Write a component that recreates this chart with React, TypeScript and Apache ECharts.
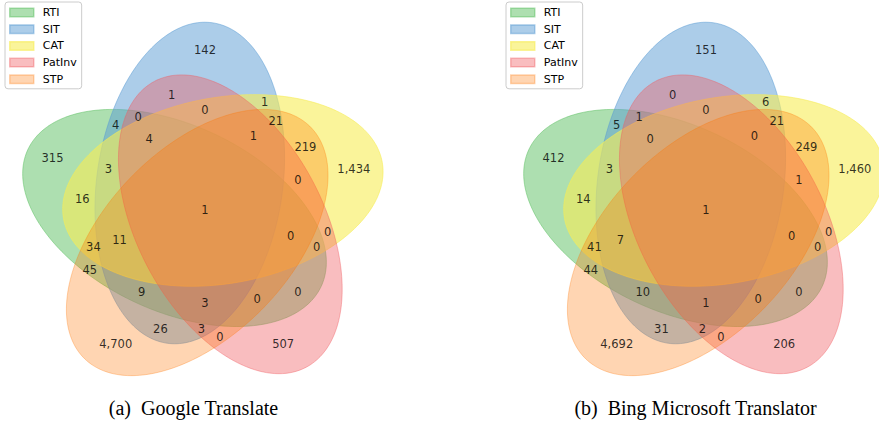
import React, { useEffect, useRef } from "react";
import * as echarts from "echarts";

// Sets (bit order in region keys: RTI SIT CAT PatInv STP)
const setNames = ["RTI", "SIT", "CAT", "PatInv", "STP"];
const setFill = [
  "rgba(92,192,98,0.5)",
  "rgba(90,155,212,0.5)",
  "rgba(246,236,86,0.6)",
  "rgba(241,90,96,0.4)",
  "rgba(255,117,0,0.3)",
];
const ellipseCenterX = [0.428, 0.469, 0.558, 0.578, 0.489];
const ellipseCenterY = [0.449, 0.543, 0.523, 0.432, 0.383];
const ellipseWidth = [0.87, 0.87, 0.87, 0.87, 0.87];
const ellipseHeight = [0.5, 0.5, 0.5, 0.5, 0.5];
const ellipseAngle = [155, 82, 10, 118, 46];

const regionKeys = [
  "00001", "00010", "00011", "00100", "00101", "00110", "00111", "01000",
  "01001", "01010", "01011", "01100", "01101", "01110", "01111", "10000",
  "10001", "10010", "10011", "10100", "10101", "10110", "10111", "11000",
  "11001", "11010", "11011", "11100", "11101", "11110", "11111",
];
const regionX = [
  0.27, 0.72, 0.55, 0.91, 0.78, 0.84, 0.76, 0.51,
  0.39, 0.42, 0.50, 0.67, 0.70, 0.51, 0.64, 0.10,
  0.20, 0.76, 0.65, 0.18, 0.21, 0.81, 0.74, 0.27,
  0.34, 0.33, 0.51, 0.25, 0.28, 0.36, 0.51,
];
const regionY = [
  0.11, 0.11, 0.13, 0.58, 0.64, 0.41, 0.55, 0.90,
  0.15, 0.78, 0.15, 0.76, 0.71, 0.74, 0.67, 0.61,
  0.31, 0.25, 0.23, 0.50, 0.37, 0.37, 0.40, 0.70,
  0.25, 0.72, 0.22, 0.58, 0.39, 0.66, 0.47,
];
const googleCounts = [
  4700, 507, 0, 1434, 219, 0, 0, 142,
  26, 1, 3, 1, 21, 0, 1, 315,
  45, 0, 0, 16, 34, 0, 0, 4,
  9, 0, 3, 3, 11, 4, 1,
];
const bingCounts = [
  4692, 206, 0, 1460, 249, 0, 1, 151,
  31, 0, 2, 6, 21, 0, 0, 412,
  44, 0, 0, 14, 41, 0, 0, 5,
  10, 1, 1, 3, 7, 0, 1,
];
const panelCounts = [googleCounts, bingCounts];
const panelTitles = ["(a)  Google Translate", "(b)  Bing Microsoft Translator"];

const panelLeft = [15.3, 516.3];
const panelWidth = [372, 362];
const panelTop = 13;
const panelSize = 372;
const titleX = [193.5, 695.5];
const titleY = 407.5;
const legendLeft = [5, 506];

function makeOption() {
  const grid = panelLeft.map((l, p) => ({
    left: l,
    top: panelTop,
    width: panelWidth[p],
    height: panelSize,
    containLabel: false,
  }));
  const xAxis = panelLeft.map((_, p) => ({
    type: "value",
    gridIndex: p,
    min: 0,
    max: panelWidth[p] / panelSize,
    show: false,
  }));
  const yAxis = panelLeft.map((_, p) => ({
    type: "value",
    gridIndex: p,
    min: 0,
    max: 1,
    show: false,
  }));

  const series: any[] = [];
  panelLeft.forEach((_, p) => {
    setNames.forEach((name, i) => {
      const color = setFill[i];
      series.push({
        type: "custom",
        name,
        xAxisIndex: p,
        yAxisIndex: p,
        clip: false,
        silent: true,
        itemStyle: { color },
        encode: { x: 0, y: 1 },
        data: [[ellipseCenterX[i], ellipseCenterY[i], ellipseWidth[i], ellipseHeight[i], ellipseAngle[i]]],
        renderItem: (params: any, api: any) => {
          const cx = api.value(0);
          const cy = api.value(1);
          const w = api.value(2);
          const h = api.value(3);
          const ang = (api.value(4) * Math.PI) / 180;
          const pts: number[][] = [];
          const n = 240;
          for (let k = 0; k < n; k++) {
            const t = (k / n) * 2 * Math.PI;
            const ex = (w / 2) * Math.cos(t);
            const ey = (h / 2) * Math.sin(t);
            const x = cx + ex * Math.cos(ang) - ey * Math.sin(ang);
            const y = cy + ex * Math.sin(ang) + ey * Math.cos(ang);
            pts.push(api.coord([x, y]));
          }
          return {
            type: "polygon",
            shape: { points: pts },
            style: { fill: color, stroke: color, lineWidth: 1 },
          };
        },
      });
    });
    series.push({
      type: "scatter",
      name: "counts" + p,
      xAxisIndex: p,
      yAxisIndex: p,
      silent: true,
      symbol: "circle",
      symbolSize: 1,
      itemStyle: { color: "rgba(0,0,0,0)" },
      data: regionX.map((x, i) => [x, regionY[i], panelCounts[p][i], regionKeys[i]]),
      label: {
        show: true,
        position: "inside",
        fontFamily: "DejaVu Sans",
        fontSize: 11.5,
        color: "#000",
        formatter: (d: any) => Number(d.value[2]).toLocaleString("en-US"),
      },
      emphasis: { disabled: true },
      z: 10,
    });
  });

  const legend = legendLeft.map((l) => ({
    left: l,
    top: 2,
    orient: "vertical",
    icon: "rect",
    itemWidth: 24,
    itemHeight: 8.5,
    itemGap: 5.7,
    padding: [5, 5, 4, 4],
    backgroundColor: "rgba(255,255,255,0.8)",
    borderColor: "#cccccc",
    borderWidth: 1,
    borderRadius: 3,
    selectedMode: false,
    textStyle: {
      fontFamily: "DejaVu Sans",
      fontSize: 11,
      lineHeight: 11,
      color: "#000",
      padding: [0, 0, 0, 4],
    },
    data: setNames.map((name, i) => ({
      name,
      itemStyle: { color: setFill[i], borderColor: setFill[i], borderWidth: 1.5 },
    })),
  }));

  const graphic = panelTitles.map((t, p) => ({
    type: "text",
    x: titleX[p],
    y: titleY,
    silent: true,
    style: {
      text: t,
      font: '20px "Liberation Serif"',
      fill: "#000",
      align: "center",
      verticalAlign: "middle",
      textAlign: "center",
      textVerticalAlign: "middle",
    },
  }));

  return {
    animation: false,
    backgroundColor: "#ffffff",
    grid,
    xAxis,
    yAxis,
    legend,
    graphic,
    series,
  };
}

export default function App() {
  const ref = useRef<HTMLDivElement>(null);
  useEffect(() => {
    if (!ref.current) return;
    const chart = echarts.init(ref.current, null, { renderer: "svg" });
    chart.setOption(makeOption() as any);
    return () => chart.dispose();
  }, []);
  return (
    <div
      ref={ref}
      style={{ position: "absolute", left: 0, top: 0, width: 879, height: 423 }}
    />
  );
}
